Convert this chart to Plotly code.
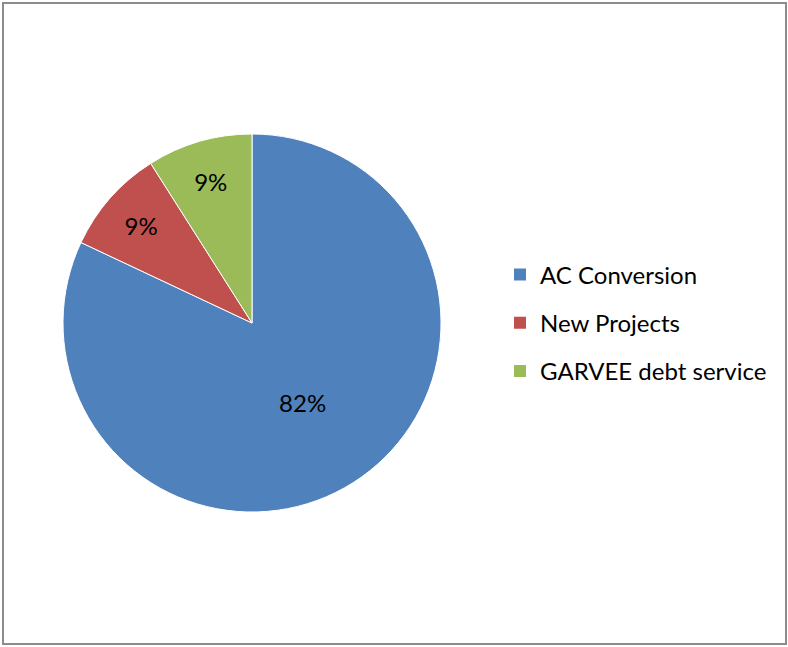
import plotly.graph_objects as go

labels = ["AC Conversion", "New Projects", "GARVEE debt service"]
values = [82, 9, 9]
colors = ["#4F81BD", "#C0504D", "#9BBB59"]

W, H = 788, 647
cx, cy, r = 252, 323, 189

fig = go.Figure()
fig.add_trace(go.Pie(
    labels=labels, values=values, sort=False, direction="clockwise", rotation=0,
    marker=dict(colors=colors, line=dict(color="white", width=1)),
    textinfo="percent", textposition="inside", insidetextorientation="horizontal",
    texttemplate="%{percent:.0%}",
    textfont=dict(family="Lato", size=24, color="black"),
    showlegend=False, hoverinfo="label+percent",
    domain=dict(x=[(cx - r) / W, (cx + r) / W], y=[(H - cy - r) / H, (H - cy + r) / H]),
))
for i, (lab, col) in enumerate(zip(labels, colors)):
    fig.add_trace(go.Scatter(
        x=[None], y=[None], mode="markers", name=lab, legendgroup=f"g{i}",
        marker=dict(symbol="square", size=13, color=col),
    ))

fig.update_layout(
    width=W, height=H, margin=dict(l=0, r=0, t=0, b=0),
    paper_bgcolor="white", plot_bgcolor="white",
    xaxis=dict(visible=False), yaxis=dict(visible=False),
    legend=dict(x=500 / W, y=(H - 323) / H, xanchor="left", yanchor="middle",
                font=dict(family="Lato", size=24, color="black"),
                tracegroupgap=14, itemsizing="constant", bgcolor="rgba(0,0,0,0)"),
    shapes=[dict(type="rect", xref="paper", yref="paper",
                 x0=3 / W, x1=786 / W, y0=(H - 644) / H, y1=(H - 3) / H,
                 line=dict(color="#8C8C8C", width=2), fillcolor="rgba(0,0,0,0)")],
)
fig.write_html("out.html", config={"displayModeBar": False},
               post_script="document.body.style.margin='0';document.body.style.overflow='hidden';")
